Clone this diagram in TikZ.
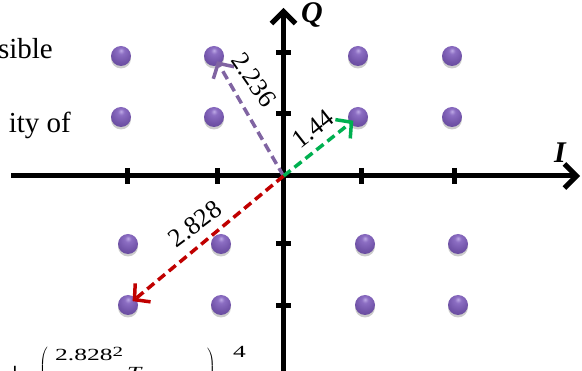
\documentclass[tikz,border=0pt]{standalone}
\usepackage{fontspec}
\setmainfont{Liberation Serif}
\usetikzlibrary{arrows.meta,shadows}
\definecolor{vpurple}{RGB}{128,100,162}
\definecolor{vgreen}{RGB}{0,176,80}
\definecolor{vred}{RGB}{192,0,0}
\pgfdeclareradialshading{purpleball}{\pgfpoint{0bp}{14bp}}{%
  color(0bp)=(rgb,255:red,190;green,170;blue,230);
  color(8bp)=(rgb,255:red,140;green,110;blue,195);
  color(25bp)=(rgb,255:red,115;green,85;blue,170);
  color(42bp)=(rgb,255:red,95;green,68;blue,148);
  color(50bp)=(rgb,255:red,82;green,58;blue,128);
  color(100bp)=(rgb,255:red,82;green,58;blue,128)}
\begin{document}
\begin{tikzpicture}[x=1pt,y=-1pt,
  axis/.style={line width=5pt,-{Straight Barb[length=12pt,width=24pt]}},
  tickmark/.style={line width=5pt},
  vec/.style={line width=3.5pt, dash pattern=on 9pt off 5pt, shorten >=6pt, -{Straight Barb[length=11pt,width=24pt]}},
  dot/.style={circle, inner sep=0pt, minimum size=20pt, shading=purpleball,
    drop shadow={shadow xshift=0pt,shadow yshift=-2.5pt,opacity=0.2,fill=black}},
  lbl/.style={font=\fontsize{26}{28}\selectfont, inner sep=0pt},
  axlbl/.style={font=\fontsize{30}{32}\selectfont\bfseries\itshape, inner sep=0pt},
  txt/.style={font=\fontsize{29}{32}\selectfont, inner sep=0pt},
  frm/.style={font=\fontsize{17}{17}\selectfont, inner sep=0pt}]
\useasboundingbox (0,0) rectangle (582,371);
\clip (0,0) rectangle (582,371);

% left text fragments
\node[txt, anchor=base east] (t1) at (53,59) {sible};
\node[txt, anchor=base east] (t2) at (71,133) {ity of};

% axes
\coordinate (O) at (283.5,176);
\coordinate (xl) at (11,176);
\coordinate (xr) at (580,176);
\coordinate (yb) at (283.5,380);
\coordinate (yt) at (283.5,8);
\draw[axis] (xl) -- (xr);
\draw[axis] (yb) -- (yt);
\foreach \x in {127,217,361,454} \draw[tickmark] (\x,168) -- (\x,184);
\foreach \y in {53,114,244,306} \draw[tickmark] (276,\y) -- (291,\y);
\node[axlbl, anchor=base] (qlab) at (312,23) {Q};
\node[axlbl, anchor=base] (ilab) at (560,163) {I};

% constellation points
\node[dot] (a1) at (121,56) {};
\node[dot] (a2) at (214,56) {};
\node[dot] (a3) at (121,117) {};
\node[dot] (a4) at (214,117) {};
\node[dot] (b1) at (358,56) {};
\node[dot] (b2) at (452,56) {};
\node[dot] (b3) at (358,117) {};
\node[dot] (b4) at (452,117) {};
\node[dot] (c1) at (128,244) {};
\node[dot] (c2) at (221,244) {};
\node[dot] (c3) at (128,305) {};
\node[dot] (c4) at (221,305) {};
\node[dot] (d1) at (365,244) {};
\node[dot] (d2) at (458,244) {};
\node[dot] (d3) at (365,305) {};
\node[dot] (d4) at (458,305) {};

% vectors
\draw[vec, vpurple] (O) -- (a2.center);
\draw[vec, vgreen] (O) -- (b3.center);
\draw[vec, vred] (O) -- (c3.center);
\node[lbl, rotate=-55] (l1) at (254,80) {2.236};
\node[lbl, rotate=38] (l2) at (313,129) {1.44};
\node[lbl, rotate=37] (l3) at (195,224) {2.828};

% formula fragment at the bottom
\node[inner sep=0pt, font=\fontsize{34}{34}\selectfont] (fplus) at (15,376) {+};
\node[inner sep=0pt, anchor=north west, font=\fontsize{12}{12}\selectfont] (fpl) at (39,347) {$\left(\vrule height 28pt depth 28pt width 0pt\right.$};
\node[frm, anchor=base west] (fnum) at (55,361) {\scalebox{1.5}[1]{2.828\raisebox{4pt}{\fontsize{14}{14}\selectfont 2}}};
\node[frm, anchor=base west, font=\fontsize{17}{17}\selectfont\itshape] (fT) at (127,379) {\scalebox{1.5}[1]{T}};
\node[inner sep=0pt, anchor=north east, font=\fontsize{12}{12}\selectfont] (fpr) at (216,348) {$\left.\vrule height 28pt depth 28pt width 0pt\right)$};
\node[frm, anchor=base west] (f4) at (233,358) {\scalebox{1.5}[1]{4}};
\end{tikzpicture}
\end{document}
